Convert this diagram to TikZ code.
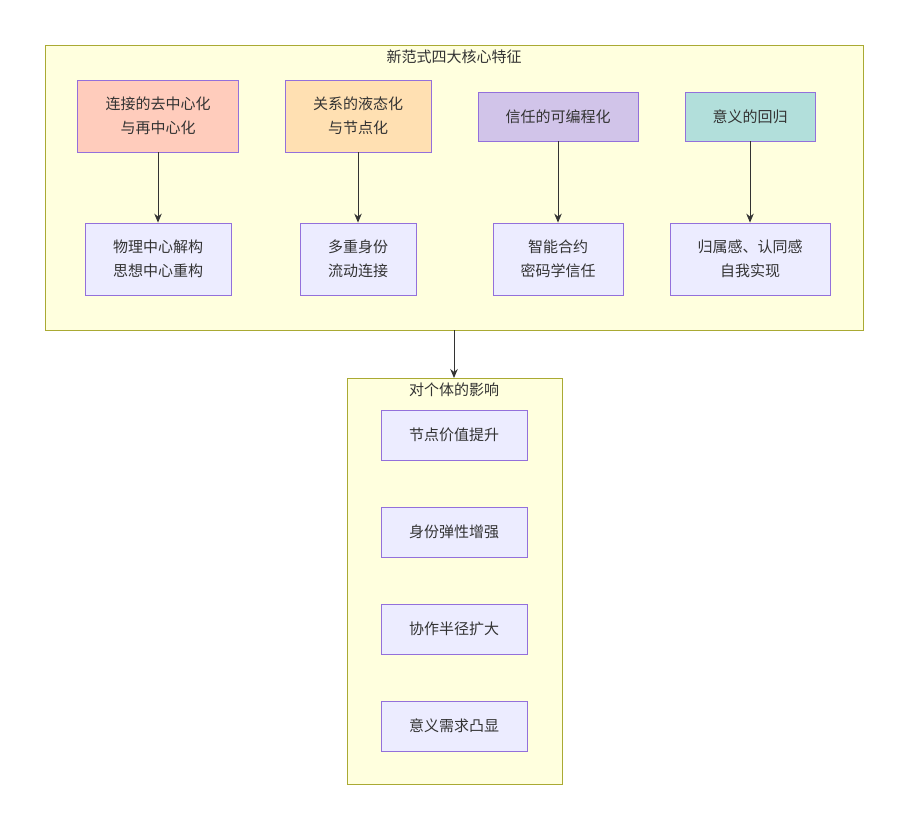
\documentclass[tikz,border=0pt]{standalone}
\usepackage{fontspec}
\newfontfamily\cjk{Noto Sans CJK SC}
\usetikzlibrary{positioning}
\usetikzlibrary{arrows.meta}

\definecolor{grupo}{HTML}{FFFFDE}
\definecolor{grupoborde}{HTML}{AAAA33}
\definecolor{caja}{HTML}{ECECFF}
\definecolor{cajaborde}{HTML}{9370DB}
\definecolor{salmon}{HTML}{FFCCBC}
\definecolor{naranja}{HTML}{FFE0B2}
\definecolor{lila}{HTML}{D1C4E9}
\definecolor{verde}{HTML}{B2DFDB}
\definecolor{texto}{HTML}{333333}

\begin{document}
\begin{tikzpicture}[x=1pt, y=-1pt,
  every node/.style={draw=cajaborde, fill=caja, text=texto, line width=0.8pt, align=center, inner sep=0pt, font=\cjk\fontsize{15}{24}\selectfont},
  grupobox/.style={draw=grupoborde, fill=grupo, line width=0.8pt},
  titulo/.style={draw=none, fill=none},
  flecha/.style={-{Stealth[length=9pt, width=7.5pt]}, draw=texto, line width=0.9pt}]
  \useasboundingbox (0,0) rectangle (909,830);

  % Grupos
  \draw[grupobox] (45,45) rectangle (863,330);
  \node[titulo] (t1) at (454,57) {新范式四大核心特征};
  \draw[grupobox] (347,378) rectangle (562,784);
  \node[titulo] (t2) at (454,390) {对个体的影响};
  \coordinate (g1) at (454,330);
  \coordinate (g2) at (454,378);

  % Nodos
  \node[fill=salmon, minimum width=161pt, minimum height=72pt] (a1) at (158,116) {连接的去中心化\\与再中心化};
  \node[fill=naranja, minimum width=146pt, minimum height=72pt] (a2) at (358,116) {关系的液态化\\与节点化};
  \node[fill=lila, minimum width=160pt, minimum height=49pt] (a3) at (558,116.5) {信任的可编程化};
  \node[fill=verde, minimum width=130pt, minimum height=49pt] (a4) at (750,116.5) {意义的回归};

  \node[minimum width=146pt, minimum height=72pt] (b1) at (158,259) {物理中心解构\\思想中心重构};
  \node[minimum width=116pt, minimum height=72pt] (b2) at (358,259) {多重身份\\流动连接};
  \node[minimum width=130pt, minimum height=72pt] (b3) at (558,259) {智能合约\\密码学信任};
  \node[minimum width=160pt, minimum height=72pt] (b4) at (750,259) {归属感、认同感\\自我实现};

  \node[minimum width=146pt, minimum height=50pt] (c1) at (454,435) {节点价值提升};
  \node[minimum width=146pt, minimum height=50pt] (c2) at (454,532) {身份弹性增强};
  \node[minimum width=146pt, minimum height=50pt] (c3) at (454,629) {协作半径扩大};
  \node[minimum width=146pt, minimum height=50pt] (c4) at (454,726) {意义需求凸显};

  % Aristas
  \draw[flecha] (a1) -- (b1);
  \draw[flecha] (a2) -- (b2);
  \draw[flecha] (a3) -- (b3);
  \draw[flecha] (a4) -- (b4);
  \draw[flecha] (g1) -- (g2);
\end{tikzpicture}
\end{document}
